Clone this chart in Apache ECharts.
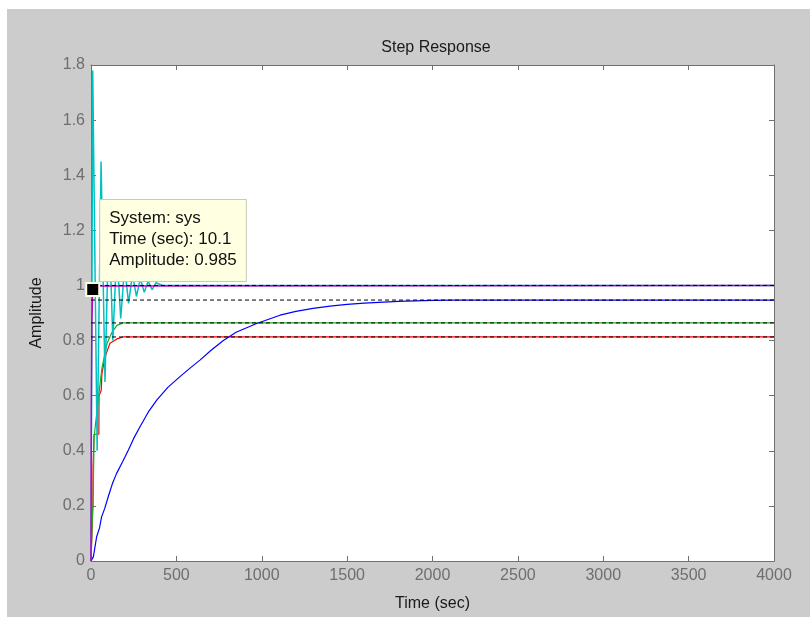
<!DOCTYPE html>
<html>
<head>
<meta charset="utf-8">
<script src="https://cdn.jsdelivr.net/npm/echarts@6/dist/echarts.min.js"></script>
<style>
html,body{margin:0;padding:0;background:#fff;width:810px;height:617px;overflow:hidden;}
#bg{position:absolute;left:7px;top:9px;width:803px;height:608px;background:#cccccc;}
#chart{position:absolute;left:0;top:0;width:810px;height:617px;}
</style>
</head>
<body>
<div id="bg"></div>
<div id="chart"></div>
<script>
// ---- data ----
const chartTitle = 'Step Response';
const xName = 'Time (sec)';
const yName = 'Amplitude';
const xTicks = [0, 500, 1000, 1500, 2000, 2500, 3000, 3500, 4000];
const yTicks = [0, 0.2, 0.4, 0.6, 0.8, 1, 1.2, 1.4, 1.6, 1.8];

const tBlue = [0, 14, 33, 50, 62, 80, 101, 125, 150, 185, 219, 250, 287, 335, 385, 450, 521, 580, 638, 700, 775, 850, 970, 1107, 1200, 1300, 1400, 1500, 1600, 1800, 2000, 2120, 2150, 4000];
const vBlue = [0, 0.016, 0.088, 0.12, 0.16, 0.19, 0.233, 0.28, 0.318, 0.36, 0.403, 0.445, 0.487, 0.54, 0.584, 0.63, 0.669, 0.70, 0.729, 0.763, 0.800, 0.830, 0.862, 0.892, 0.906, 0.917, 0.925, 0.931, 0.936, 0.942, 0.946, 0.947, 0.947, 0.947];

const tRed = [0, 11, 12, 17, 18, 46, 47, 60, 64, 82, 111, 152, 187, 4000];
const vRed = [0, 0.20, 0.34, 0.34, 0.46, 0.46, 0.60, 0.62, 0.68, 0.74, 0.79, 0.806, 0.813, 0.813];

const tGreen = [0, 10, 12, 18, 20, 45, 58, 64, 94, 123, 152, 187, 4000];
const vGreen = [0, 0.19, 0.20, 0.45, 0.46, 0.60, 0.67, 0.70, 0.79, 0.83, 0.855, 0.864, 0.864];

const tCyan = [0, 10, 20, 36, 59, 82, 105, 128, 151, 174, 197, 220, 243, 266, 289, 312, 335, 358, 381, 420, 4000];
const vCyan = [0, 1.78, 1.78, 0.40, 1.45, 0.65, 1.25, 0.80, 1.13, 0.88, 1.07, 0.935, 1.04, 0.96, 1.025, 0.975, 1.015, 0.985, 1.01, 1.0, 1.0];

const tMag = [0, 2, 5, 10.1, 15, 4000];
const vMag = [0, 0.56, 0.87, 0.985, 0.998, 1.0];

const steadyValues = [1.0, 0.947, 0.864, 0.813];

const cursorSystem = 'sys';
const cursorTime = 10.1;
const cursorAmp = 0.985;

// ---- build ----
const zip = (t, v) => t.map((x, i) => [x, v[i]]);
const font = "'Liberation Sans', Arial, sans-serif";
const axisGray = '#707070';
const labelGray = '#6e6e6e';

function lineSeries(name, t, v, color, z, w) {
  return {
    name, type: 'line', data: zip(t, v), symbol: 'none', smooth: false,
    lineStyle: { color, width: w || 1.2 }, z, animation: false
  };
}

const series = [
  lineSeries('red', tRed, vRed, '#ff0000', 3),
  lineSeries('green', tGreen, vGreen, '#1fae1f', 3),
  lineSeries('cyan', tCyan, vCyan, '#00c0c0', 4, 1.5),
  lineSeries('blue', tBlue, vBlue, '#0000ff', 5),
  lineSeries('magenta', tMag, vMag, '#c000c0', 6, 1.5)
];
steadyValues.forEach((s, i) => {
  series.push({
    name: 'ss' + i, type: 'line', symbol: 'none', animation: false,
    data: [[xTicks[0], s], [xTicks[xTicks.length - 1], s]],
    lineStyle: { color: '#000', width: 1, type: [4, 3] }, z: 7
  });
});
series.push({
  name: 'cursor', type: 'scatter', animation: false, z: 50,
  data: [[cursorTime, cursorAmp]],
  symbol: 'rect', symbolSize: 13,
  itemStyle: { color: '#000', borderColor: '#ffffe1', borderWidth: 2, opacity: 1 },
  label: {
    show: true, position: [15, -1], align: 'left', verticalAlign: 'bottom',
    formatter: 'System: ' + cursorSystem + '\nTime (sec): ' + cursorTime + '\nAmplitude: ' + cursorAmp,
    fontFamily: font, fontSize: 17, lineHeight: 21, color: '#111',
    backgroundColor: '#ffffe1', borderColor: '#c9c9b8', borderWidth: 1,
    padding: [8, 9, 10, 9]
  }
});

const baseAxisStyle = {
  axisLine: { show: true, onZero: false, lineStyle: { color: axisGray, width: 1 } },
  axisTick: { show: true, inside: true, length: 5, lineStyle: { color: axisGray } },
  splitLine: { show: false }
};

const chart = echarts.init(document.getElementById('chart'), null, { renderer: 'canvas' });
chart.setOption({
  backgroundColor: 'transparent',
  animation: false,
  title: {
    text: chartTitle, left: 431, top: 35, textAlign: 'center',
    textStyle: { fontFamily: font, fontSize: 16, fontWeight: 'normal', color: '#1a1a1a' }
  },
  grid: { left: 91, top: 65, right: 36, bottom: 56, show: true, backgroundColor: '#ffffff', borderWidth: 0 },
  xAxis: [
    Object.assign({
      type: 'value', min: xTicks[0], max: xTicks[xTicks.length - 1], interval: 500, position: 'bottom',
      name: xName, nameLocation: 'middle', nameGap: 35,
      nameTextStyle: { fontFamily: font, fontSize: 16, color: '#1a1a1a' },
      axisLabel: { fontFamily: font, fontSize: 16, color: labelGray, margin: 7,
        formatter: v => String(Math.round(v)) }
    }, baseAxisStyle),
    Object.assign({
      type: 'value', min: xTicks[0], max: xTicks[xTicks.length - 1], interval: 500, position: 'top',
      axisLabel: { show: false }
    }, baseAxisStyle)
  ],
  yAxis: [
    Object.assign({
      type: 'value', min: yTicks[0], max: yTicks[yTicks.length - 1], interval: 0.2, position: 'left',
      name: yName, nameLocation: 'middle', nameGap: 46,
      nameTextStyle: { fontFamily: font, fontSize: 16, color: '#1a1a1a' },
      axisLabel: { fontFamily: font, fontSize: 16, color: labelGray, margin: 6,
        formatter: v => String(Math.round(v * 10) / 10) }
    }, baseAxisStyle),
    Object.assign({
      type: 'value', min: yTicks[0], max: yTicks[yTicks.length - 1], interval: 0.2, position: 'right',
      axisLabel: { show: false }
    }, baseAxisStyle)
  ],
  series
});
</script>
</body>
</html>
